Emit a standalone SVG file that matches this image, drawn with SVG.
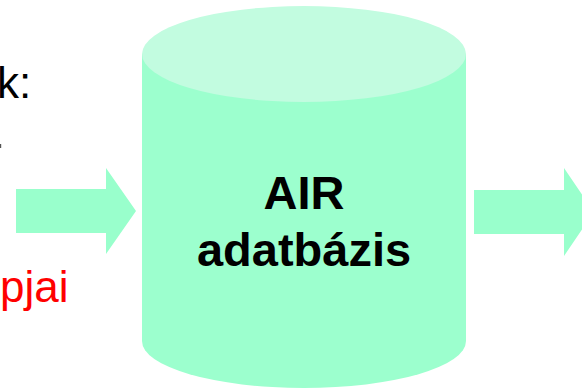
<svg xmlns="http://www.w3.org/2000/svg" width="582" height="391" viewBox="0 0 582 391">
<style>
.arrow{fill:#99FFCC;stroke:none}
.body{fill:#9CFFCE}
.top{fill:#C2FCE0}
.t{font-family:"Liberation Sans",Arial,sans-serif;font-size:44px}
.b{font-weight:bold;text-anchor:middle;font-size:47px}
</style>
<rect width="582" height="391" fill="#FFFFFF"/>
<g id="left-text">
<text class="t" x="-3" y="98" fill="#000000">k:</text>
<rect x="0" y="144" width="1.2" height="4" fill="#555555"/>
<text class="t" x="0" y="302" fill="#FF0000">pjai</text>
</g>
<g id="connectors">
<polygon class="arrow" points="16,189 106,189 106,168 136,211 106,254 106,233 16,233"/>
<polygon class="arrow" points="474,190 564,190 564,168 594,212 564,256 564,234 474,234"/>
</g>
<g id="db">
<path class="body" d="M142,54 L142,341 A162,47 0 0 0 466,341 L466,54 Z"/>
<ellipse class="top" cx="304" cy="54" rx="162" ry="48"/>
<text class="t b" x="304" y="209">AIR</text>
<text class="t b" x="304" y="266">adatbázis</text>
</g>
</svg>
